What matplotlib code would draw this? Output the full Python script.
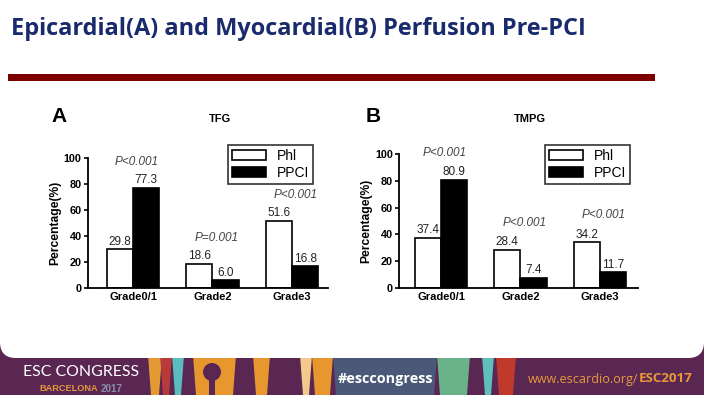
import matplotlib
matplotlib.use("Agg")
import matplotlib.pyplot as plt
from matplotlib.patches import Rectangle, FancyBboxPatch, Polygon, Circle
import numpy as np

# ---------------- data ----------------
categories = ["Grade0/1", "Grade2", "Grade3"]
series_names = ["Phl", "PPCI"]
tfg_phl = [29.8, 18.6, 51.6]
tfg_ppci = [77.3, 6.0, 16.8]
tfg_p = ["P<0.001", "P=0.001", "P<0.001"]
tmpg_phl = [37.4, 28.4, 34.2]
tmpg_ppci = [80.9, 7.4, 11.7]
tmpg_p = ["P<0.001", "P<0.001", "P<0.001"]
yticks = [0, 20, 40, 60, 80, 100]

W, H = 704, 395
fig = plt.figure(figsize=(W / 100, H / 100), dpi=100)
fig.patch.set_facecolor("white")
renderer = fig.canvas.get_renderer()


def fit_width(txt, target_px):
    bb = txt.get_window_extent(renderer=renderer)
    txt.set_fontsize(txt.get_fontsize() * target_px / bb.width)


# ---------------- slide background / footer ----------------
bg = fig.add_axes([0, 0, 1, 1], zorder=0)
bg.set_xlim(0, W)
bg.set_ylim(H, 0)
bg.axis("off")

purple = "#5a2752"
bg.add_patch(Rectangle((0, 340), W, 60, color=purple, lw=0))
stripes = [
    (148, 162, "#e39a35"), (160, 172, "#b83a3a"), (172, 184, "#5cbdc0"),
    (193, 236, "#e8962e"), (253, 270, "#e8962e"), (300, 312, "#f4c98c"),
    (312, 333, "#e8962e"), (333, 437, "#4b5878"), (437, 470, "#6ab28a"),
    (482, 494, "#5fbfbd"), (496, 516, "#c0392b"),
]
for x0, x1, c in stripes:
    bg.add_patch(Polygon([(x0 + 3, 395), (x0, 355), (x1, 355), (x1 - 3, 395)],
                         closed=True, color=c, lw=0))
bg.add_patch(Circle((212, 372), 9, color=purple, lw=0))
bg.add_patch(Rectangle((209, 372), 6, 25, color=purple, lw=0))
bg.add_patch(Polygon([(272, 395), (276, 378), (278, 355), (286, 355),
                      (288, 378), (292, 395)], color=purple, lw=0))
# white slide panel with rounded bottom corners
bg.add_patch(FancyBboxPatch((0, -40), W, 398, boxstyle="round,pad=0,rounding_size=16",
                            fc="white", ec="none"))

t = bg.text(23, 372, "ESC CONGRESS", color="white", fontsize=11.5, va="center",
            ha="left", family="Lato")
fit_width(t, 116)
t = bg.text(39, 388.5, "BARCELONA", color="#e7983a", fontsize=6.5, va="center",
            ha="left", fontweight="bold", family="Liberation Sans")
fit_width(t, 58)
t = bg.text(101, 388.5, "2017", color="#8a8fb0", fontsize=6.5, va="center",
            ha="left", fontweight="bold", family="Liberation Sans")
fit_width(t, 22)
t = bg.text(338, 378.5, "#esccongress", color="white", fontsize=11, va="center",
            ha="left", fontweight="bold", family="Open Sans")
fit_width(t, 95)
t1 = bg.text(528, 379, "www.escardio.org/", color="#e7983a", fontsize=10, va="center",
             ha="left", family="Open Sans")
fit_width(t1, 110)
t2 = bg.text(692, 379, "ESC2017", color="#e7983a", fontsize=11, va="center",
             ha="right", fontweight="bold", family="Open Sans")
fit_width(t2, 54)

# title and rule
tt = bg.text(11, 29, "Epicardial(A) and Myocardial(B) Perfusion Pre-PCI", color="#1a2b6d",
             fontsize=18, fontweight="bold", va="center", ha="left", family="Open Sans")
fit_width(tt, 574)
bg.add_patch(Rectangle((8, 74), 647, 6.5, color="#7d0000", lw=0))


# ---------------- charts ----------------
def panel(rect, xlim, phl, ppci, pvals, letter, title, letter_xy, title_xy, legend_box):
    ax = fig.add_axes(rect, zorder=2)
    ax.patch.set_alpha(0)
    x = np.arange(len(categories))
    w = 0.33
    ax.bar(x - w / 2, phl, w, color="white", edgecolor="black", lw=1.2, label=series_names[0])
    ax.bar(x + w / 2, ppci, w, color="black", edgecolor="black", lw=1.2, label=series_names[1])
    for xi, a, b, p in zip(x, phl, ppci, pvals):
        ax.text(xi - w / 2, a + 1.2, f"{a:.1f}", ha="center", va="bottom",
                fontsize=8.5, color="#222222", family="Liberation Sans")
        ax.text(xi + w / 2, b + 1.2, f"{b:.1f}", ha="center", va="bottom",
                fontsize=8.5, color="#222222", family="Liberation Sans")
        ax.text(xi + 0.05, max(a, b) + 20, p, ha="center", va="center", fontsize=8.5,
                style="italic", color="#444444", family="Liberation Sans")
    ax.set_xlim(*xlim)
    ax.set_ylim(0, 100)
    ax.set_yticks(yticks)
    ax.set_xticks(x)
    ax.set_xticklabels(categories, fontweight="bold", fontsize=8, family="Liberation Sans")
    ax.tick_params(axis="x", length=0, pad=3)
    ax.tick_params(axis="y", length=3, width=1.2, pad=1.5, labelsize=7.8)
    for lab in ax.get_yticklabels():
        lab.set_fontweight("bold")
        lab.set_family("Liberation Sans")
    for s in ["top", "right"]:
        ax.spines[s].set_visible(False)
    for s in ["left", "bottom"]:
        ax.spines[s].set_linewidth(1.3)
    ax.set_ylabel("Percentage(%)", fontweight="bold", fontsize=8.7,
                  family="Liberation Sans", labelpad=2)
    leg = ax.legend(loc="upper left", bbox_to_anchor=legend_box, bbox_transform=bg.transData,
                    frameon=True, fancybox=False, fontsize=10, handlelength=2.4,
                    handleheight=0.7, borderpad=0.3, labelspacing=0.2,
                    handletextpad=0.8, borderaxespad=0)
    leg.get_frame().set_edgecolor("black")
    leg.get_frame().set_linewidth(1.2)
    for tx in leg.get_texts():
        tx.set_family("Liberation Sans")
    bg.text(*letter_xy, letter, fontsize=15, fontweight="bold", ha="left", va="center",
            family="Liberation Sans")
    bg.text(*title_xy, title, fontsize=8, fontweight="bold", ha="center", va="center",
            family="Liberation Sans")
    return ax


panel([88 / W, (H - 288) / H, 240 / W, 130 / H], (-0.566, 2.453),
      tfg_phl, tfg_ppci, tfg_p, "A", "TFG", (51, 117), (220, 119), (228, 145))
panel([399 / W, (H - 288) / H, 239 / W, 134 / H], (-0.528, 2.478),
      tmpg_phl, tmpg_ppci, tmpg_p, "B", "TMPG", (366, 117), (530, 119), (545, 145))

fig.savefig("out.png", dpi=100)
